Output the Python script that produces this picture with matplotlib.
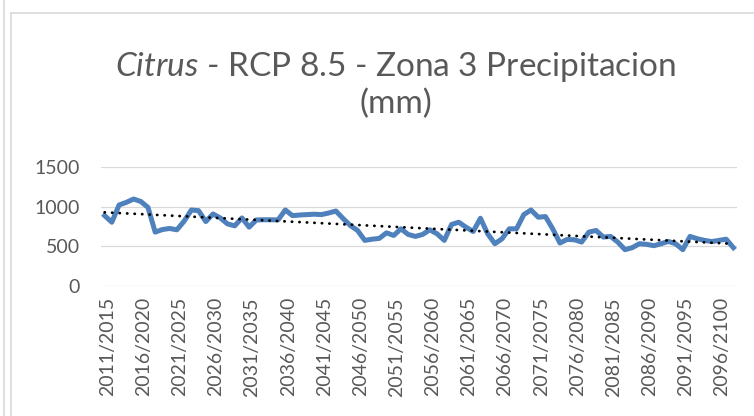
import numpy as np
import matplotlib
matplotlib.use("Agg")
import matplotlib.pyplot as plt
from matplotlib.lines import Line2D

plt.rcParams['font.family'] = ['Lato', 'DejaVu Sans']
plt.rcParams['mathtext.fontset'] = 'custom'
plt.rcParams['mathtext.rm'] = 'Lato'
plt.rcParams['mathtext.it'] = 'Lato:italic'

# yearly precipitation (mm)
precip = [887, 804, 1021, 1054, 1096, 1066, 991, 679, 712, 725,
          708, 817, 958, 950, 812, 908, 858, 783, 758, 858,
          742, 833, 835, 835, 833, 958, 887, 895, 900, 905,
          900, 920, 945, 850, 762, 700, 575, 590, 600, 670,
          637, 721, 650, 625, 650, 708, 658, 575, 775, 804,
          741, 687, 854, 658, 533, 596, 721, 721, 900, 958,
          867, 875, 721, 542, 587, 583, 554, 679, 700, 617,
          625, 554, 458, 483, 533, 525, 508, 533, 562, 533,
          458, 625, 596, 575, 560, 575, 590, 483]
periods = ['2011/2015', '2016/2020', '2021/2025', '2026/2030', '2031/2035',
           '2036/2040', '2041/2045', '2046/2050', '2051/2055', '2056/2060',
           '2061/2065', '2066/2070', '2071/2075', '2076/2080', '2081/2085',
           '2086/2090', '2091/2095', '2096/2100']
yticks = [0, 500, 1000, 1500]

grey = '#595959'
grid = '#d9d9d9'

fig = plt.figure(figsize=(7.54, 4.16), dpi=100)
ax = fig.add_axes([101 / 754, 1 - 286 / 416, 636 / 754, 119 / 416])

x = np.arange(len(precip))
ax.plot(x, precip, color='#4f81bd', linewidth=3.6, solid_joinstyle='round', zorder=3)

# linear trend line
coef = np.polyfit(x, precip, 1)
ax.plot(x, np.polyval(coef, x), color='black', linewidth=2.0,
        linestyle=(0, (0.1, 2.6)), dash_capstyle='round', zorder=4)

ax.set_xlim(-0.5, len(precip) - 0.5)
ax.set_ylim(0, 1500)
ax.set_yticks(yticks)
ax.set_xticks(np.arange(0, len(periods) * 5, 5) + 0.4)
ax.set_xticklabels(periods, rotation=90)
ax.yaxis.grid(True, color=grid, linewidth=0.9)
ax.set_axisbelow(True)
for s in ax.spines.values():
    s.set_visible(False)
ax.tick_params(axis='both', length=0, labelsize=14, labelcolor=grey)
ax.tick_params(axis='y', pad=15)
ax.tick_params(axis='x', pad=8)

# title, "Citrus" in italics
fig.text(396 / 754, 1 - 63 / 416,
         r'$\mathit{Citrus}$ - RCP 8.5 - Zona 3 Precipitacion',
         ha='center', va='center_baseline', fontsize=24, color=grey)
fig.text(396 / 754, 1 - 101 / 416, '(mm)',
         ha='center', va='center_baseline', fontsize=24, color=grey)

# chart frame
fig.add_artist(Line2D([11 / 754, 11 / 754], [0, 1 - 13 / 416], color=grid, linewidth=1.2))
fig.add_artist(Line2D([11 / 754, 1], [1 - 13 / 416, 1 - 13 / 416], color=grid, linewidth=1.2))
fig.add_artist(Line2D([4 / 754, 4 / 754], [0, 1], color=grid, linewidth=1.2))

fig.savefig('out.png', dpi=100)
